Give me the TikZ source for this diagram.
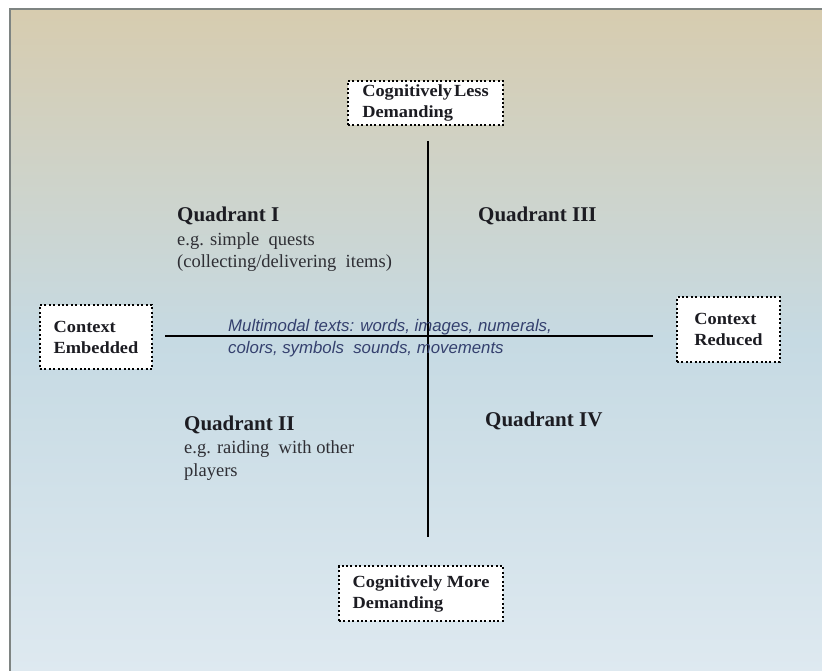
\documentclass[tikz,border=0pt]{standalone}
\usepackage{fontspec}
\setmainfont{Liberation Serif}
\newfontfamily\labelsans{Liberation Sans}
\newfontfamily\boxserif[FakeStretch=1.08]{Liberation Serif}
\definecolor{bgtop}{HTML}{D7CCAF}
\definecolor{bgmid}{HTML}{C6DAE3}
\definecolor{bgbot}{HTML}{DEE9F0}
\definecolor{framegray}{HTML}{7E8482}
\definecolor{inkdark}{HTML}{1C1C22}
\definecolor{inkbody}{HTML}{2E2E34}
\definecolor{inkblue}{HTML}{34406E}
\tikzset{
  axisline/.style={line width=2.6pt, draw=black},
  dimbox/.style={draw=black, fill=white, line width=2.4pt,
    dash pattern=on 2pt off 2.4pt, align=left, inner sep=0pt,
    font=\boxserif\fontsize{17}{21}\selectfont\bfseries,
    text=inkdark},
  quadhead/.style={anchor=base west, font=\fontsize{21}{23}\selectfont\bfseries, text=inkdark, inner sep=0pt},
  quadbody/.style={anchor=base west, align=left, font=\fontsize{18.5}{22.5}\selectfont, text=inkbody, inner sep=0pt},
  modaltext/.style={anchor=base west, align=left, font=\labelsans\itshape\fontsize{16.8}{22}\selectfont, text=inkblue, inner sep=0pt}
}
\begin{document}
\begin{tikzpicture}[x=1pt,y=-1pt]
\useasboundingbox (0,0) rectangle (822,671);
% background panel with its vertical colour gradient
\shade[top color=bgtop, bottom color=bgbot, middle color=bgmid]
  (10,9) rectangle (824,673);
\draw[framegray, line width=1.6pt] (10,673) -- (10,9) -- (824,9);

% axes
\coordinate (vtop) at (428,141);
\coordinate (vbot) at (428,537);
\coordinate (hleft) at (165,336);
\coordinate (hright) at (653,336);
\draw[axisline] (vtop) -- (vbot);
\draw[axisline] (hleft) -- (hright);

% dimension labels at the ends of the axes
\node[dimbox, minimum width=155pt, minimum height=44pt] (less) at (425.5,103)
  {Cognitively\kern2pt Less\\Demanding};
\node[dimbox, minimum width=112pt, minimum height=64pt] (embedded) at (96,337)
  {Context\\Embedded};
\node[dimbox, minimum width=103pt, minimum height=65pt] (reduced) at (728.5,329.5)
  {Context\\Reduced};
\node[dimbox, minimum width=164pt, minimum height=55pt] (more) at (421,593.5)
  {Cognitively More\\Demanding};

% quadrant labels (multi-line nodes sit on the baseline of their last line)
\node[quadhead] (q1) at (177,222) {Quadrant I};
\node[quadbody] (q1body) at (177,268) {e.g. simple\ \ quests\\(collecting/delivering\ \ items)};
\node[quadhead] (q3) at (478,222) {Quadrant III};
\node[quadhead] (q2) at (184,430) {Quadrant II};
\node[quadbody] (q2body) at (184,476) {e.g. raiding\ \ with other\\players};
\node[quadhead] (q4) at (485,426) {Quadrant IV};

% centre annotation
\node[modaltext] (modal) at (228,353)
  {Multimodal texts: words, images, numerals,\\colors, symbols\ \ sounds, movements};
\end{tikzpicture}
\end{document}
